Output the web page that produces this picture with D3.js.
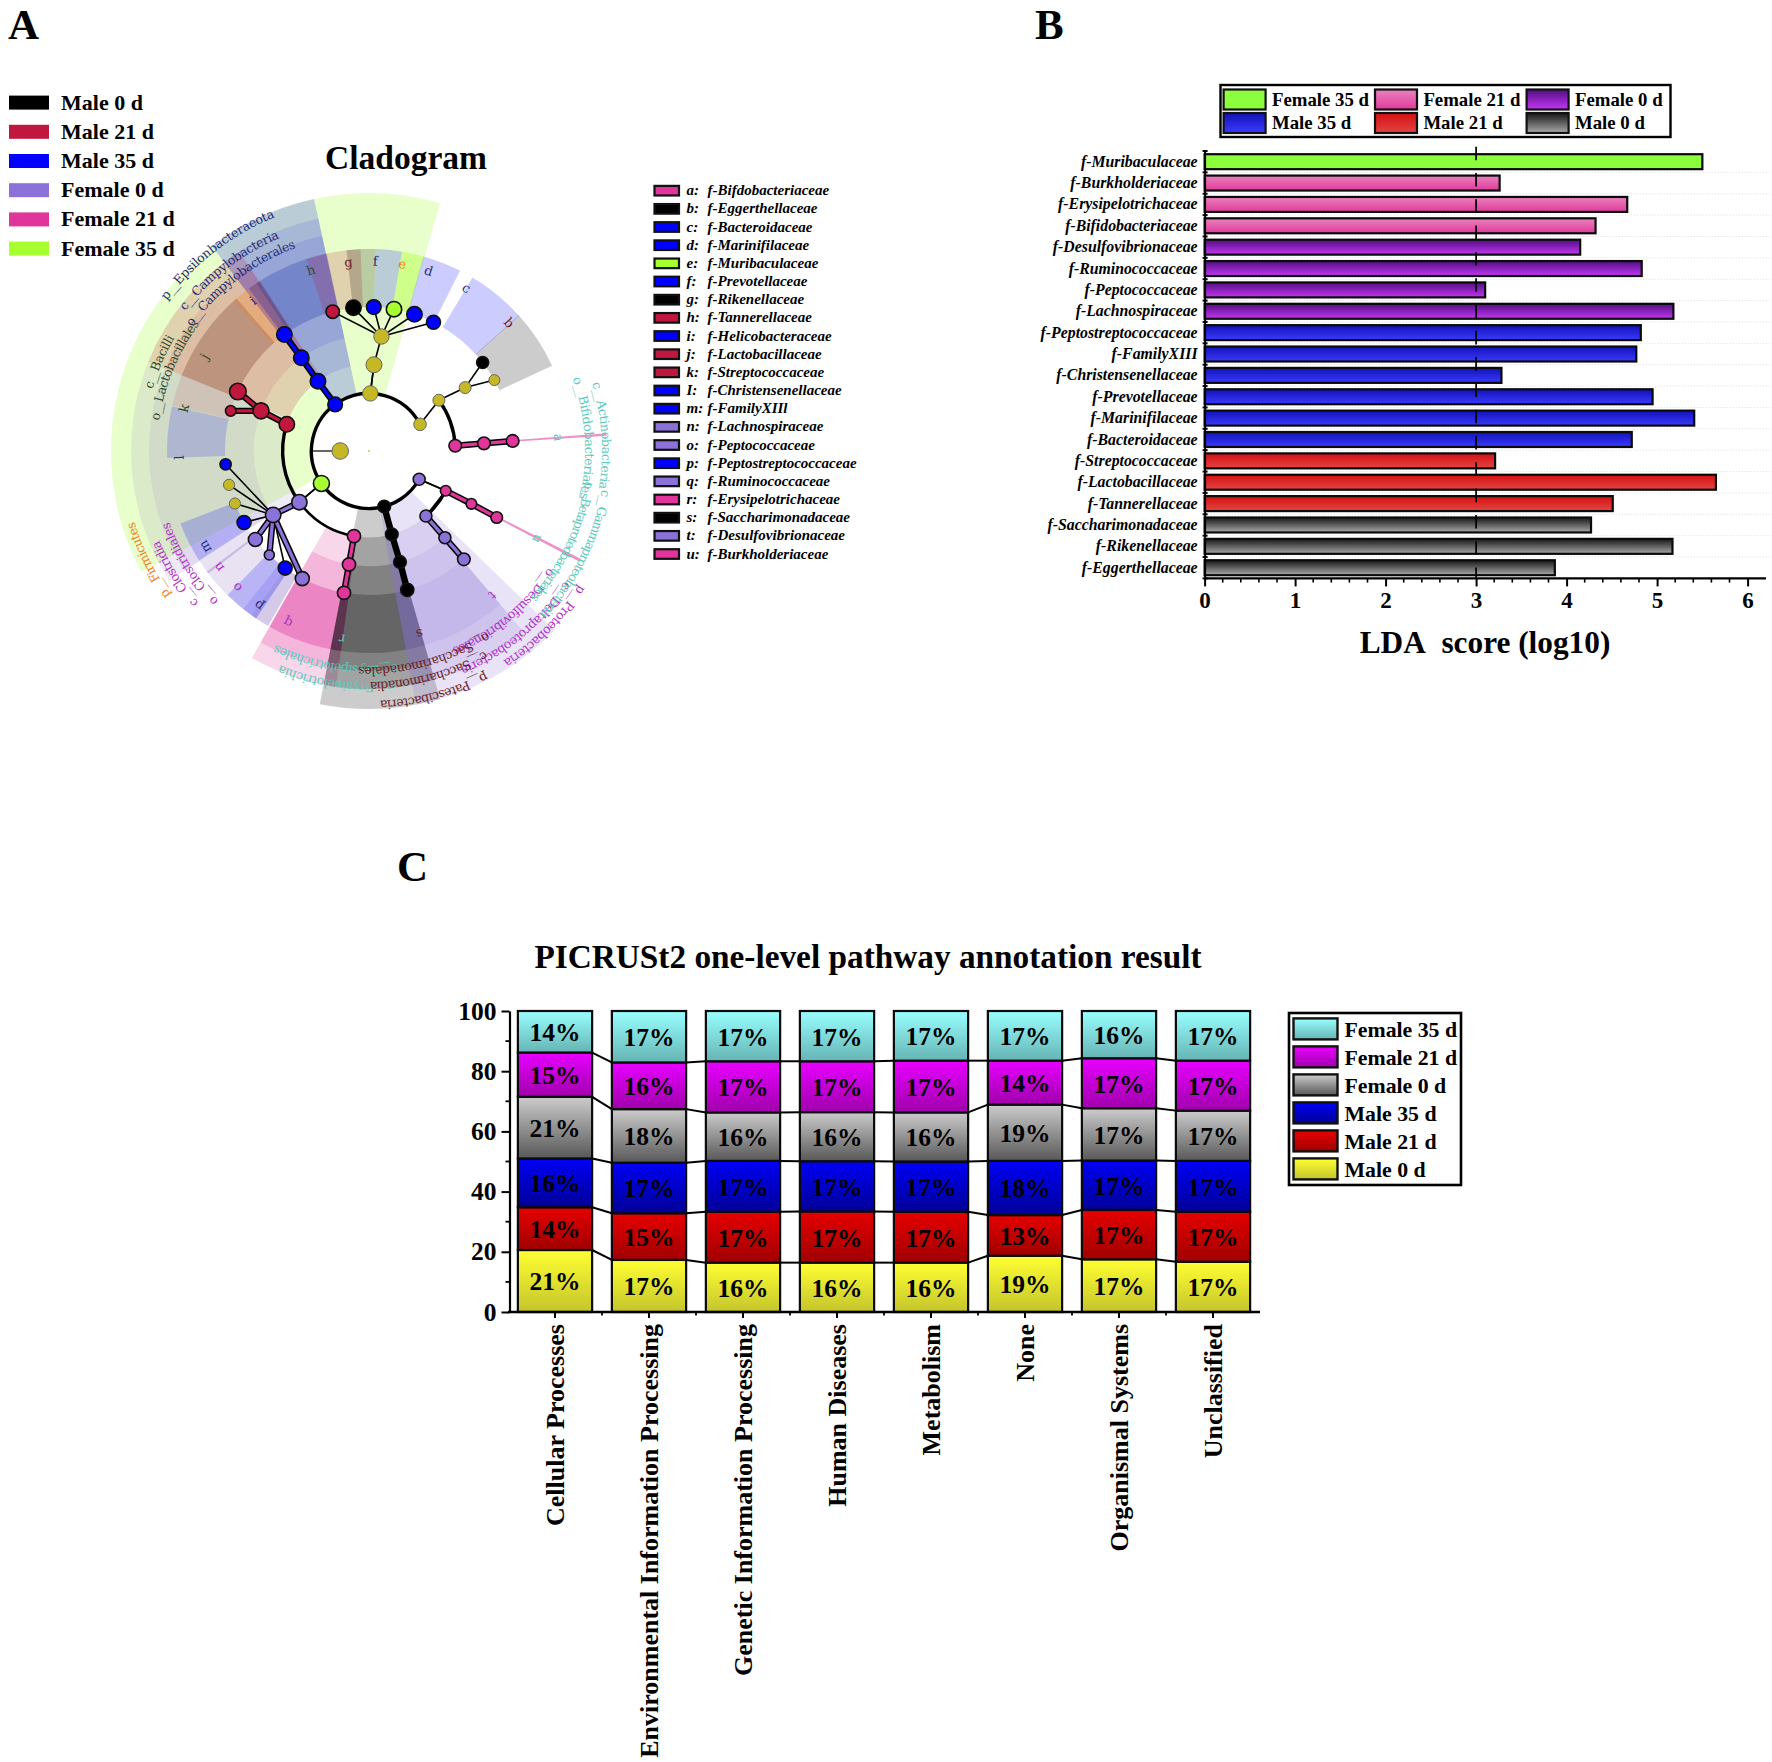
<!DOCTYPE html>
<html><head><meta charset="utf-8">
<script src="https://cdn.jsdelivr.net/npm/d3@7/dist/d3.min.js"></script>
<style>html,body{margin:0;padding:0;background:#fff}svg{display:block}text{font-family:"Liberation Serif",serif;font-weight:bold;fill:#000}</style>
</head><body><svg id="c" width="1772" height="1762"></svg>
<script>
// ---------- Panel A data ----------
const groupNames = ["Male 0 d","Male 21 d","Male 35 d","Female 0 d","Female 21 d","Female 35 d"];
const groupColors = ["#000000","#c0173f","#0000ff","#8a72d8","#e0359b","#a8ff30"];
const familyKeys = ["a:","b:","c:","d:","e:","f:","g:","h:","i:","j:","k:","I:","m:","n:","o:","p:","q:","r:","s:","t:","u:"];
const familyNames = ["f-Bifdobacteriaceae","f-Eggerthellaceae","f-Bacteroidaceae","f-Marinifilaceae","f-Muribaculaceae","f-Prevotellaceae","f-Rikenellaceae","f-Tannerellaceae","f-Helicobacteraceae","f-Lactobacillaceae","f-Streptococcaceae","f-Christensenellaceae","f-FamilyXIIl","f-Lachnospiraceae","f-Peptococcaceae","f-Peptostreptococcaceae","f-Ruminococcaceae","f-Erysipelotrichaceae","f-Saccharimonadaceae","f-Desulfovibrionaceae","f-Burkholderiaceae"];
const familyGroup = [4,0,2,2,5,2,0,1,2,1,1,2,2,3,3,2,3,4,0,3,4];
// shaded sectors: rank, start angle, end angle, hue, strength (degrees clockwise from 12 o'clock)
const sectorRank  = ["phylum","class","order","phylum","class","order","class","order","family","family","family","family","family","family","family","family","family","family","family","family","family","family","family","family","family","family","family","class","order","family","phylum","class","order","family","phylum","class","order","family","class","class"];
const sectorStart = [-118,-123,-123,-37.5,-37.5,-37.5,-68,-68,-33.9,-68,-77,-42,-36.5,-92,-111,-150,-127.3,-146,-146,-18,-6.4,1.9,9.4,15.6,30.8,47.8,-150,-172,-172,-172,164,164,164,164,134,139.5,139.5,139.5,85.7,117];
const sectorEnd   = [16,-68,-68,-12.3,-12.3,-12.3,-33,-33,-12.1,-41,-68,-36.5,-32.7,-77.2,-122.8,-123,-126.6,-135.5,-141.5,-2.4,1.9,9.4,15.6,26.8,48,65,-144.5,-150.5,-150.5,-150.5,191,191,191,191,169.5,169.5,169.5,169.5,86.3,117.7];
const sectorHue   = ["lime","mute","mute","blue","bluD","bluD","crim","crim","bluF","brwn","crim","oran","plum","blue","blue","mute","mute","blue","blue","crim","black","blue","lime","blue","blue","black","mute","pink","pink","pink","black","black","black","black","lila","lila","lila","lila","pink","pink"];
const sectorAlpha = [.25,.15,.12,.2,.15,.15,.2,.1,.3,.28,.12,.28,.3,.16,.2,.2,.35,.2,.1,.2,.2,.2,.42,.2,.2,.2,.2,.2,.2,.38,.2,.2,.2,.22,.2,.17,.12,.14,.55,.55];
// tree nodes: id, parent, angle, level, group, size
const nodeIds    = ["root","p1","p2","p3","p4","p5","p6","c1","o1","h","g","f","e","d","c","cR","oR","oB","oS","a1","a2","a3","u1","u2","u3","t1","t2","t3","s2","s3","s4","r1","r2","r3","cL","hub2","l1","l2","l3","l4","l5","l6","l7","l8","b2","b3","b4","k1","k2","k3","k4"];
const nodeParent = [null,null,null,null,null,null,null,"p1","c1","o1","o1","o1","o1","o1","o1",null,"cR","oR","oR",null,"a1","a2","p4","u1","u2","u1","t1","t2","p5","s2","s3",null,"r1","r2","p6","cL","hub2","hub2","hub2","hub2","hub2","hub2","hub2","hub2","p2","b2","b3",null,"k1","k2","k2"];
const nodeAngle  = [-90,1.3,-36,62.4,119.4,164.7,-124.3,3.3,6.2,-14.6,-6.2,1.9,10,18.4,26.6,54,56.6,52.1,60.5,86.5,86.2,86,117.4,117.3,117.5,138.8,138.8,138.8,164.7,164.4,164.6,-170,-170,-170,-126.3,-123.7,-95.3,-103.6,-111.4,-119.8,-127.9,-136.2,-144.4,-152.4,-36.2,-36,-36,-72,-69.6,-65.6,-73.8];
const nodeLevel  = [1,2,2,2,2,2,2,3,4,5,5,5,5,5,5,3,4,5,5,3,4,5,3,4,5,3,4,5,3,4,5,3,4,5,3,4,5,5,5,5,5,5,5,5,3,4,5,3,4,5,5];
const nodeGroup  = ["o","o","b","o","l","k","g","o","o","r","k","b","g","b","b","o","o","k","o","p","p","p","p","p","p","l","l","l","k","k","k","p","p","p","l","l","b","o","o","b","l","l","b","l","b","b","b","r","r","r","r"];
const nodeSize   = [8.3,7.7,7.3,6.3,6,6.3,8,8,7.7,6.7,7.7,7.3,7.7,7.7,7,6,6,6,5.5,6.3,6.3,6.3,5.3,5.3,5.8,6,6,6.3,6.3,6.3,6.6,6.6,6.6,6.6,7.7,7.7,5.6,5.6,5.6,7,7,5,7,7,7.7,7.7,7.7,7.7,8,8.3,5.3];
const thickIds   = ["a2","a3","u2","u3","t2","t3","s2","s3","s4","r2","r3","hub2","l5","l6","l8","b2","b3","b4","k2","k3","k4"];
const extraLinks = [["p3","cR"],["p4","u1"],["p6","cL"],["p1","c1"]];
// arcs of the tree: level, start angle, end angle
const arcLevel = [2,2,3,3,3,3];
const arcStart = [-124.3,119.4,-126.3,-170,54,117.4];
const arcEnd   = [62.4,235.7,-72,-126.3,86.5,138.8];
// clade labels: text, angle from, angle to, ring radius, colour key
const cladeText = ["p__Epsilonbacteraeota","c__Campylobacteria","o__Campylobacterales","c__Bacilli","o__Lactobacillales","p__Firmicutes","c__Clostridia","o__Clostridiales","p__Proteobacteria","c__Deltaproteobacteria","o__Desulfovibrionales","c__Actinobacteria","o__Bifidobacteriales","c__Gammaproteobacteria","o__Betaproteobacteriales","c__Erysipelotrichia","o__Erysipelotrichales","p__Patescibacteria","c__Saccharimonadia","o__Saccharimonadales"];
const cladeFrom = [-53.4,-52.7,-55,-74.1,-81.8,-126,-131.7,-134.9,122.4,123.6,123,73.1,70.4,99.4,98,174.1,172.3,152.3,150,147];
const cladeTo   = [-21.9,-22.8,-19.8,-59.9,-53.1,-106.7,-113,-109.5,147.4,157.2,157.2,99.3,102.7,133.7,132.3,202.6,205.7,177.5,179.8,182.8];
const cladeRing = [256,235,220,229,216,249,232,216,253,239,218,237,220,240,222,236,219,254,235,220];
const cladeHue  = ["navy","navy","navy","olive","olive","oran","mag","mag","mag","mag","mag","teal","teal","teal","teal","teal","teal","brown","brown","brown"];
// letters on the wheel
const letterText  = ["a","b","c","d","e","f","g","h","i","j","k","l","m","n","o","p","q","r","s","t","u"];
const letterAngle = [85.9,47.5,30.9,18.3,10.1,1.9,-6.2,-17.8,-37.7,-60.1,-77,-92,-120.3,-127.7,-136,-144.5,-154.7,-171.8,164.5,139.5,117.5];
const letterHue   = ["teal","brown","navy","navy","oran","navy","brown","olive","navy","olive","olive","navy","navy","mag","mag","navy","mag","teal","brown","mag","teal"];

// ---------- Panel B data ----------
const ldaNames = ["f-Muribaculaceae","f-Burkholderiaceae","f-Erysipelotrichaceae","f-Bifidobacteriaceae","f-Desulfovibrionaceae","f-Ruminococcaceae","f-Peptococcaceae","f-Lachnospiraceae","f-Peptostreptococcaceae","f-FamilyXIII","f-Christensenellaceae","f-Prevotellaceae","f-Marinifilaceae","f-Bacteroidaceae","f-Streptococcaceae","f-Lactobacillaceae","f-Tannerellaceae","f-Saccharimonadaceae","f-Rikenellaceae","f-Eggerthellaceae"];
const ldaValues = [5.50,3.26,4.67,4.32,4.15,4.83,3.10,5.18,4.82,4.77,3.28,4.95,5.41,4.72,3.21,5.65,4.51,4.27,5.17,3.87];
const ldaGroup  = ["F35","F21","F21","F21","F0","F0","F0","F0","M35","M35","M35","M35","M35","M35","M21","M21","M21","M0","M0","M0"];
const ldaLegendKeys = ["F35","F21","F0","M35","M21","M0"];
const ldaLegendText = ["Female 35 d","Female 21 d","Female 0 d","Male 35 d","Male 21 d","Male 0 d"];
const ldaTicks = [0,1,2,3,4,5,6];

// ---------- Panel C data ----------
const pathways = ["Cellular Processes","Environmental Information Processing","Genetic Information Processing","Human Diseases","Metabolism","None","Organismal Systems","Unclassified"];
const stackNames = ["Male 0 d","Male 21 d","Male 35 d","Female 0 d","Female 21 d","Female 35 d"];
const male0    = [20.6,17.3,16.4,16.4,16.4,18.7,17.5,16.7];
const male21   = [14.2,15.5,16.9,17.0,16.9,13.5,16.4,16.6];
const male35   = [16.2,16.8,16.9,16.7,16.7,18.0,16.4,16.9];
const female0  = [20.5,17.8,16.1,16.3,16.3,18.7,17.4,16.7];
const female21 = [14.7,15.5,17.0,16.9,17.2,14.6,16.6,16.6];
const female35 = [13.8,17.1,16.7,16.7,16.5,16.5,15.7,16.5];
const labels0   = ["21%","17%","16%","16%","16%","19%","17%","17%"];
const labels21  = ["14%","15%","17%","17%","17%","13%","17%","17%"];
const labels35  = ["16%","17%","17%","17%","17%","18%","17%","17%"];
const labelsF0  = ["21%","18%","16%","16%","16%","19%","17%","17%"];
const labelsF21 = ["15%","16%","17%","17%","17%","14%","17%","17%"];
const labelsF35 = ["14%","17%","17%","17%","17%","17%","16%","17%"];
const yTicksC = [0,20,40,60,80,100];
const panelLetters = ["A","B","C"];

// ---------- set up ----------
const svg = d3.select("#c");
const defs = svg.append("defs");
function grad(id, top, bottom){
  const g = defs.append("linearGradient").attr("id",id).attr("x1",0).attr("y1",0).attr("x2",0).attr("y2",1);
  g.append("stop").attr("offset","0%").attr("stop-color",top);
  g.append("stop").attr("offset","100%").attr("stop-color",bottom);
}
const ldaFill = {F35:["#8cff3c","#8cff3c"],F21:["#ea82bc","#e03a9c"],F0:["#4f0f80","#c535f5"],M35:["#1212b8","#3a3aff"],M21:["#d81010","#e04444"],M0:["#161616","#aaaaaa"]};
Object.keys(ldaFill).forEach(k=>grad("lda"+k,ldaFill[k][0],ldaFill[k][1]));
const stackFill = [["#ffff33","#c4c42c"],["#e60000","#a00000"],["#0000f5","#000098"],["#cccccc","#585858"],["#e800ff","#a000ac"],["#99ffff","#66b4b4"]];
stackFill.forEach((c,i)=>grad("st"+i,c[0],c[1]));

const letterX = d3.scaleOrdinal().domain(panelLetters).range([8,1035,397]);
const letterY = d3.scaleOrdinal().domain(panelLetters).range([38.5,38.5,881]);
svg.append("g").selectAll("text").data(panelLetters).join("text")
  .attr("x",d=>letterX(d)).attr("y",d=>letterY(d)).attr("font-size",43).text(d=>d);

// ---------- Panel A ----------
const pa = svg.append("g");
const legendA = d3.scaleBand().domain(groupNames).range([88,263.2]);
pa.selectAll("rect.lg").data(groupNames).join("rect").attr("x",9).attr("width",40)
  .attr("y",d=>legendA(d)+legendA.bandwidth()/2-7).attr("height",14).attr("fill",(d,i)=>groupColors[i]);
pa.selectAll("text.lg").data(groupNames).join("text").attr("class","lg").attr("x",61)
  .attr("y",d=>legendA(d)+legendA.bandwidth()/2+7).attr("font-size",22).text(d=>d);
pa.append("text").attr("x",406).attr("y",169).attr("text-anchor","middle").attr("font-size",33.5).text("Cladogram");

const hueMap = {lime:"#a8ff30",mute:"#8a70c0",blue:"#0000ff",bluD:"#3c46dc",bluF:"#283caa",crim:"#c0173f",brwn:"#6a2a20",plum:"#50204a",oran:"#f08020",black:"#000000",pink:"#e0359b",lila:"#8a72d8",
  navy:"#1f2d7a",olive:"#2f4a28",mag:"#b030c8",teal:"#5ccabb",brown:"#6a1c1c"};
const nodeFill = {o:"#c4b826",k:"#000000",r:"#c0173f",b:"#0000ff",l:"#8a72d8",p:"#e0359b",g:"#a8ff30"};
const wheel = pa.append("g").attr("transform","translate(369,451)");
const rad = d3.scaleLinear().domain([0,5]).range([0,144]);
const rankInner = {phylum:rad(2),class:rad(3),order:rad(4),family:rad(5)};
const rankOuter = {phylum:258,class:238,order:220,family:202};
const deg = d3.scaleLinear().domain([0,180]).range([0,Math.PI]);
const sectorArc = d3.arc();
wheel.selectAll("path.sector").data(sectorRank).join("path").attr("class","sector")
  .attr("d",(d,i)=>sectorArc({innerRadius:rankInner[d],outerRadius:rankOuter[d],startAngle:deg(sectorStart[i]),endAngle:deg(sectorEnd[i])}))
  .attr("fill",(d,i)=>hueMap[sectorHue[i]]).attr("fill-opacity",(d,i)=>sectorAlpha[i]);

// clade labels on arcs
function arcPath(r,a0,a1){const p=d3.path();p.arc(0,0,r,deg(a0)-Math.PI/2,deg(a1)-Math.PI/2,false);return p.toString();}
cladeText.forEach((t,i)=>{
  const r = cladeRing[i]-4;
  defs.append("path").attr("id","cl"+i).attr("d",arcPath(r,cladeFrom[i],cladeTo[i]));
  const len = deg(cladeTo[i]-cladeFrom[i])*r;
  wheel.append("text").style("font-family","'DejaVu Serif',serif").style("font-weight","normal").attr("font-size",12.5)
    .style("fill",hueMap[cladeHue[i]])
    .append("textPath").attr("href","#cl"+i).attr("textLength",len).attr("lengthAdjust","spacing").text(t);
});
// letters
wheel.selectAll("text.let").data(letterText).join("text").attr("class","let")
  .attr("transform",(d,i)=>`rotate(${letterAngle[i]}) translate(0,-190)`)
  .attr("text-anchor","middle").attr("dy","0.35em").attr("font-size",13)
  .style("font-family","'DejaVu Serif',serif").style("font-weight","normal")
  .style("fill",(d,i)=>hueMap[letterHue[i]]).text(d=>d);

// tree
const nodes = nodeIds.map((id,i)=>{
  const r = rad(nodeLevel[i]), a = deg(nodeAngle[i]);
  return {id,parent:nodeParent[i],x:r*Math.sin(a),y:-r*Math.cos(a),g:nodeGroup[i],size:nodeSize[i]};
});
const byId = new Map(nodes.map(n=>[n.id,n]));
const tree = wheel.append("g");
tree.append("g").selectAll("path").data(arcLevel).join("path")
  .attr("d",(d,i)=>arcPath(rad(d),arcStart[i],arcEnd[i])).attr("fill","none").attr("stroke","#000")
  .attr("stroke-width",(d,i)=>i==3?2.6:3.4);
const segs = nodes.filter(n=>n.parent).map(n=>[n.parent,n.id]);
const isThick = s=>thickIds.includes(s[1]);
tree.append("g").selectAll("line").data(segs).join("line")
  .attr("x1",d=>byId.get(d[0]).x).attr("y1",d=>byId.get(d[0]).y).attr("x2",d=>byId.get(d[1]).x).attr("y2",d=>byId.get(d[1]).y)
  .attr("stroke","#000").attr("stroke-width",d=>isThick(d)?6.4:1.6);
tree.append("g").selectAll("line").data(extraLinks).join("line")
  .attr("x1",d=>byId.get(d[0]).x).attr("y1",d=>byId.get(d[0]).y).attr("x2",d=>byId.get(d[1]).x).attr("y2",d=>byId.get(d[1]).y)
  .attr("stroke","#000").attr("stroke-width",1.6);
tree.append("g").selectAll("line").data(segs.filter(isThick)).join("line")
  .attr("x1",d=>byId.get(d[0]).x).attr("y1",d=>byId.get(d[0]).y).attr("x2",d=>byId.get(d[1]).x).attr("y2",d=>byId.get(d[1]).y)
  .attr("stroke",d=>nodeFill[byId.get(d[1]).g]).attr("stroke-width",3.4);
tree.append("line").attr("x1",-rad(2)).attr("y1",0).attr("x2",-rad(1)).attr("y2",0).attr("stroke","#000").attr("stroke-width",1.2);
tree.append("g").selectAll("circle").data(nodes).join("circle").attr("cx",d=>d.x).attr("cy",d=>d.y).attr("r",d=>d.size)
  .attr("fill",d=>nodeFill[d.g]).attr("stroke",d=>d.g=="o"?"#666":"#111").attr("stroke-width",d=>d.g=="o"?1:1.6);
tree.append("circle").attr("r",1).attr("fill","#c4d020");

// family key
const famY = d3.scaleBand().domain(familyKeys).range([181.6,563.1]);
const fam = pa.append("g");
fam.selectAll("rect").data(familyKeys).join("rect").attr("x",654.5).attr("width",24.5)
  .attr("y",d=>famY(d)+famY.bandwidth()/2-4.8).attr("height",9.6)
  .attr("fill",(d,i)=>groupColors[familyGroup[i]]).attr("stroke","#111").attr("stroke-width",2.2);
fam.selectAll("text.k").data(familyKeys).join("text").attr("class","k").attr("x",686.5)
  .attr("y",d=>famY(d)+famY.bandwidth()/2+4.6).attr("font-size",15).attr("font-style","italic").text(d=>d);
fam.selectAll("text.n").data(familyNames).join("text").attr("class","n").attr("x",707.5)
  .attr("y",(d,i)=>famY(familyKeys[i])+famY.bandwidth()/2+4.6).attr("font-size",15).attr("font-style","italic").text(d=>d);

// ---------- Panel B ----------
const pb = svg.append("g");
const xB = d3.scaleLinear().domain([0,6]).range([1204.6,1747.6]);
const yB = d3.scaleBand().domain(ldaNames).range([151,578.4]);
pb.append("g").selectAll("line").data(ldaNames.slice(1)).join("line").attr("x1",xB(0)).attr("x2",1772)
  .attr("y1",d=>yB(d)).attr("y2",d=>yB(d)).attr("stroke","#e6e6e6").attr("stroke-width",1).attr("stroke-dasharray","1.5 1.5");
pb.append("g").selectAll("rect").data(ldaNames).join("rect").attr("x",xB(0))
  .attr("y",d=>yB(d)+3.2).attr("height",yB.bandwidth()-6.4)
  .attr("width",(d,i)=>xB(ldaValues[i])-xB(0)).attr("fill",(d,i)=>`url(#lda${ldaGroup[i]})`)
  .attr("stroke","#0a0a0a").attr("stroke-width",2.2);
pb.append("line").attr("x1",xB(3)).attr("x2",xB(3)).attr("y1",146.7).attr("y2",578).attr("stroke","#000").attr("stroke-width",1.7).attr("stroke-dasharray","13.6 12.7");
const gyB = pb.append("g").attr("transform",`translate(${xB(0)},0)`).call(d3.axisLeft(yB).tickSize(0).tickPadding(7));
gyB.select(".domain").attr("stroke","#000").attr("stroke-width",2);
gyB.selectAll("text").attr("font-size",15.8).attr("font-style","italic").attr("font-family",null).style("font-family","'Liberation Serif',serif").style("font-weight","bold");
pb.append("g").selectAll("line").data(ldaNames.map(d=>yB(d)).concat([yB.range()[1]])).join("line")
  .attr("x1",xB(0)-2).attr("x2",xB(0)+3).attr("y1",d=>d).attr("y2",d=>d).attr("stroke","#000").attr("stroke-width",2);
const gxB = pb.append("g").attr("transform","translate(0,578.4)").call(d3.axisBottom(xB).tickValues(ldaTicks).tickFormat(d3.format("d")).tickSize(8).tickPadding(5).tickSizeOuter(0));
gxB.select(".domain").attr("d",`M${xB(0)},0H1766`).attr("stroke","#000").attr("stroke-width",2.2);
gxB.selectAll(".tick line").attr("stroke","#000").attr("stroke-width",2);
gxB.selectAll("text").attr("font-size",23).attr("font-family",null).style("font-family","'Liberation Serif',serif").style("font-weight","bold");
pb.append("g").selectAll("line").data(d3.range(0,31).map(d=>d/5).filter(d=>d%1!==0)).join("line")
  .attr("x1",d=>xB(d)).attr("x2",d=>xB(d)).attr("y1",578.4).attr("y2",582.6).attr("stroke","#000").attr("stroke-width",1.6);
pb.append("text").attr("x",1485).attr("y",653).attr("text-anchor","middle").attr("font-size",31.3).text("LDA\u00a0 score (log10)");
pb.append("rect").attr("x",1220.5).attr("y",85).attr("width",450).attr("height",52).attr("fill","#fff").attr("stroke","#000").attr("stroke-width",2.4);
const lgX = d3.scaleOrdinal().domain([0,1,2]).range([1223.6,1375,1526.6]);
const lgY = d3.scaleOrdinal().domain([0,1]).range([89.5,113]);
pb.append("g").selectAll("rect").data(ldaLegendKeys).join("rect").attr("x",(d,i)=>lgX(i%3)).attr("y",(d,i)=>lgY(i<3?0:1))
  .attr("width",42).attr("height",20).attr("fill",d=>`url(#lda${d})`).attr("stroke","#111").attr("stroke-width",2.2);
pb.append("g").selectAll("text").data(ldaLegendText).join("text").attr("x",(d,i)=>lgX(i%3)+48.4).attr("y",(d,i)=>lgY(i<3?0:1)+16)
  .attr("font-size",18.8).text(d=>d);

// ---------- Panel C ----------
const pc = svg.append("g");
pc.append("text").attr("x",868).attr("y",968).attr("text-anchor","middle").attr("font-size",33.3).text("PICRUSt2 one-level pathway annotation result");
const xC = d3.scaleBand().domain(pathways).range([508,1260]).paddingInner(0.21).paddingOuter(0.105);
const yC = d3.scaleLinear().domain([0,100]).range([1312,1011]);
const stackRows = pathways.map((p,i)=>({p,[stackNames[0]]:male0[i],[stackNames[1]]:male21[i],[stackNames[2]]:male35[i],[stackNames[3]]:female0[i],[stackNames[4]]:female21[i],[stackNames[5]]:female35[i]}));
const stacked = d3.stack().keys(stackNames)(stackRows);
const stackLabels = [labels0,labels21,labels35,labelsF0,labelsF21,labelsF35];
stacked.slice(0,5).forEach(s=>{
  pc.append("g").selectAll("line").data(s.slice(0,-1)).join("line")
    .attr("x1",d=>xC(d.data.p)+xC.bandwidth()).attr("y1",d=>yC(d[1]))
    .attr("x2",(d,i)=>xC(pathways[i+1])).attr("y2",(d,i)=>yC(s[i+1][1]))
    .attr("stroke","#000").attr("stroke-width",2);
});
stacked.forEach((s,k)=>{
  pc.append("g").selectAll("rect").data(s).join("rect").attr("x",d=>xC(d.data.p)).attr("width",xC.bandwidth())
    .attr("y",d=>yC(d[1])).attr("height",d=>yC(d[0])-yC(d[1])).attr("fill",`url(#st${k})`).attr("stroke","#0a0a0a").attr("stroke-width",2.2);
  pc.append("g").selectAll("text").data(s).join("text").attr("x",d=>xC(d.data.p)+xC.bandwidth()/2)
    .attr("y",d=>(yC(d[0])+yC(d[1]))/2+9.5).attr("text-anchor","middle").attr("font-size",25.5).text((d,i)=>stackLabels[k][i]);
});
const gyC = pc.append("g").attr("transform","translate(509.5,0)").call(d3.axisLeft(yC).tickValues(yTicksC).tickSize(8).tickPadding(5).tickSizeOuter(0));
gyC.select(".domain").attr("stroke","#000").attr("stroke-width",2.2);
gyC.selectAll(".tick line").attr("stroke","#000").attr("stroke-width",2);
gyC.selectAll("text").attr("font-size",25.5).attr("font-family",null).style("font-family","'Liberation Serif',serif").style("font-weight","bold");
pc.append("g").selectAll("line").data(d3.range(10,100,20)).join("line").attr("x1",505.5).attr("x2",509.5)
  .attr("y1",d=>yC(d)).attr("y2",d=>yC(d)).attr("stroke","#000").attr("stroke-width",1.8);
const gxC = pc.append("g").attr("transform","translate(0,1312)").call(d3.axisBottom(xC).tickSize(6).tickPadding(9).tickSizeOuter(0));
gxC.select(".domain").attr("d","M508,0H1260").attr("stroke","#000").attr("stroke-width",2.4);
gxC.selectAll(".tick line").attr("stroke","#000").attr("stroke-width",2);
gxC.selectAll("text").attr("font-size",26).attr("font-family",null).style("font-family","'Liberation Serif',serif").style("font-weight","bold")
  .attr("text-anchor","end").attr("transform","rotate(-90)").attr("x",-12).attr("y",0).attr("dy","0.33em");
pc.append("g").selectAll("line").data(pathways.slice(1)).join("line").attr("x1",d=>xC(d)-xC.step()*xC.paddingInner()/2).attr("x2",d=>xC(d)-xC.step()*xC.paddingInner()/2)
  .attr("y1",1312).attr("y2",1315.5).attr("stroke","#000").attr("stroke-width",1.8);
pc.append("rect").attr("x",1289).attr("y",1013).attr("width",172).attr("height",172).attr("fill","#fff").attr("stroke","#000").attr("stroke-width",2.6);
const legendStack = stackNames.slice().reverse();
const lcY = d3.scaleBand().domain(legendStack).range([1015,1183]);
pc.append("g").selectAll("rect").data(legendStack).join("rect").attr("x",1293.5).attr("width",44)
  .attr("y",d=>lcY(d)+3.4).attr("height",21).attr("fill",d=>`url(#st${stackNames.indexOf(d)})`).attr("stroke","#111").attr("stroke-width",2.4);
pc.append("g").selectAll("text").data(legendStack).join("text").attr("x",1344.5).attr("y",d=>lcY(d)+21.5).attr("font-size",21.8).text(d=>d);
</script></body></html>
